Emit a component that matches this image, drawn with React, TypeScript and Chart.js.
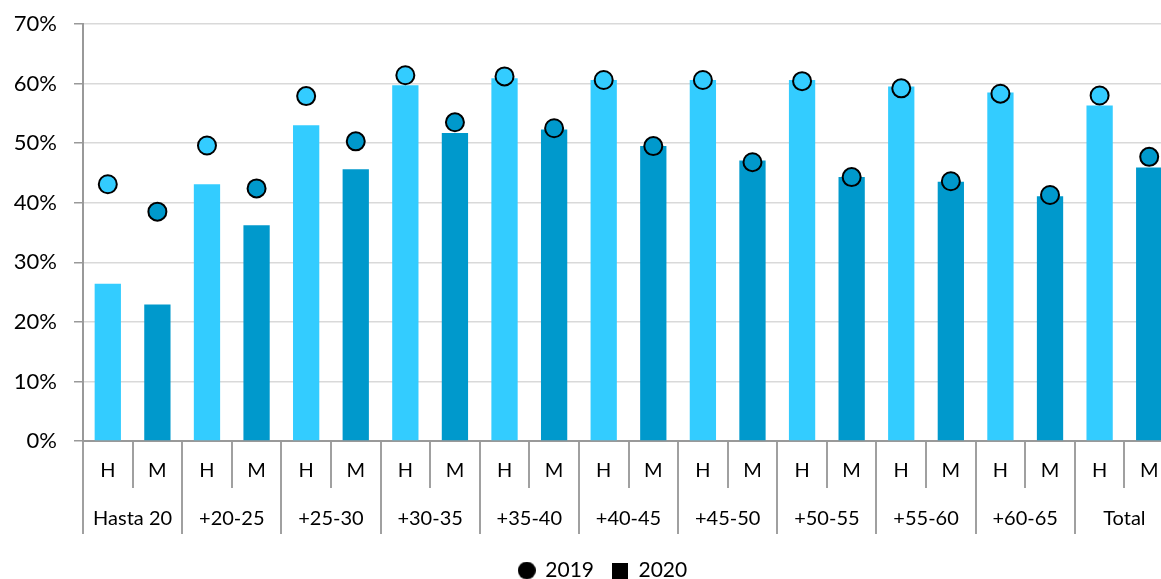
import React, { useEffect, useRef } from 'react';
import { Chart, registerables } from 'chart.js';

Chart.register(...registerables);

const groups = ['Hasta 20', '+20-25', '+25-30', '+30-35', '+35-40', '+40-45', '+45-50', '+50-55', '+55-60', '+60-65', 'Total'];
const sexes = ['H', 'M'];
const values2020 = [26.4, 22.9, 43.1, 36.2, 53.0, 45.6, 59.7, 51.7, 60.9, 52.3, 60.6, 49.5, 60.6, 47.1, 60.6, 44.3, 59.5, 43.5, 58.5, 41.1, 56.3, 45.9];
const values2019 = [43.1, 38.5, 49.6, 42.4, 57.9, 50.3, 61.4, 53.5, 61.2, 52.5, 60.6, 49.5, 60.6, 46.8, 60.4, 44.3, 59.2, 43.6, 58.3, 41.3, 58.0, 47.7];
const yTicks = [0, 10, 20, 30, 40, 50, 60, 70];
const seriesNames = ['2019', '2020'];

const LIGHT = '#33CCFF';
const DARK = '#0099CC';
const FONT = 'Lato, "Noto Sans", sans-serif';
const Y_FONT_SIZE = 22;

function makeMarker(kind: 'circle' | 'square', size: number) {
  const c = document.createElement('canvas');
  c.width = size;
  c.height = size;
  const g = c.getContext('2d') as CanvasRenderingContext2D;
  g.fillStyle = '#000';
  if (kind === 'circle') {
    g.beginPath();
    g.arc(size / 2, size / 2, size / 2, 0, Math.PI * 2);
    g.fill();
  } else {
    g.fillRect(0, 0, size, size);
  }
  return c;
}

export default function App() {
  const ref = useRef<HTMLCanvasElement | null>(null);

  useEffect(() => {
    const canvas = ref.current;
    if (!canvas) return;
    const labels: string[] = [];
    groups.forEach(() => sexes.forEach((s) => labels.push(s)));
    const colors = labels.map((_, i) => (i % 2 === 0 ? LIGHT : DARK));

    const mctx = document.createElement('canvas').getContext('2d') as CanvasRenderingContext2D;
    mctx.font = `${Y_FONT_SIZE}px ${FONT}`;
    const widest = Math.max(...yTicks.map((v) => mctx.measureText(v + '%').width));

    const circleMarker = makeMarker('circle', 18);
    const squareMarker = makeMarker('square', 16);

    const chart = new Chart(canvas, {
      type: 'bar',
      data: {
        labels,
        datasets: [
          {
            type: 'line',
            label: seriesNames[0],
            data: values2019,
            showLine: false,
            pointRadius: 9,
            pointHoverRadius: 9,
            pointBackgroundColor: colors,
            pointBorderColor: '#000',
            pointBorderWidth: 2,
            order: 0,
          } as any,
          {
            type: 'bar',
            label: seriesNames[1],
            data: values2020,
            backgroundColor: colors,
            categoryPercentage: 1,
            barPercentage: 0.53,
            order: 1,
          },
        ],
      },
      options: {
        responsive: false,
        animation: false,
        devicePixelRatio: 1,
        layout: { padding: { top: 24, left: 32, right: 32, bottom: 0 } },
        plugins: {
          tooltip: { enabled: false },
          legend: {
            position: 'bottom',
            title: { display: true, text: ' ', font: { size: 10, lineHeight: 1.1 }, padding: 0 },
            labels: {
              usePointStyle: true,
              boxHeight: 16,
              boxWidth: 16,
              padding: 18,
              color: '#000',
              font: { family: FONT, size: 21 },
              generateLabels: () => [
                { text: seriesNames[0], pointStyle: circleMarker, fillStyle: '#000', strokeStyle: '#000', fontColor: '#000', lineWidth: 0, datasetIndex: 0 } as any,
                { text: seriesNames[1], pointStyle: squareMarker, fillStyle: '#000', strokeStyle: '#000', fontColor: '#000', lineWidth: 0, datasetIndex: 1 } as any,
              ],
            },
          },
        },
        scales: {
          y: {
            min: yTicks[0],
            max: yTicks[yTicks.length - 1],
            ticks: {
              stepSize: yTicks[1] - yTicks[0],
              mirror: true,
              crossAlign: 'far',
              padding: -26 - widest,
              color: '#000',
              font: { family: FONT, size: Y_FONT_SIZE },
              callback: (v: any) => v + '%',
            },
            grid: { color: '#d9d9d9', lineWidth: 1.5, tickColor: '#999', tickLength: 9 },
            border: { color: '#999', width: 2 },
            afterFit: (s: any) => { s.width = 51; },
          },
          x: {
            weight: 0,
            offset: true,
            ticks: {
              autoSkip: false,
              maxRotation: 0,
              padding: -29,
              color: '#000',
              font: { family: FONT, size: 20 },
            },
            grid: { offset: true, drawOnChartArea: false, tickLength: 47, tickColor: '#a0a0a0', lineWidth: 2 },
            border: { color: '#999', width: 2 },
            afterFit: (s: any) => { s.height = 42; },
          },
          x2: {
            type: 'category',
            position: 'bottom',
            weight: 1,
            labels: groups,
            offset: true,
            ticks: {
              autoSkip: false,
              maxRotation: 0,
              padding: -27,
              color: '#000',
              font: { family: FONT, size: 20 },
            },
            grid: { offset: true, drawOnChartArea: false, tickLength: 51, tickColor: '#a0a0a0', lineWidth: 2 },
            border: { display: false },
            afterFit: (s: any) => { s.height = 48; },
          },
        },
      } as any,
    });
    return () => chart.destroy();
  }, []);

  return (
    <div style={{ position: 'fixed', left: 0, top: 0, width: 1161, height: 579, overflow: 'hidden', background: '#fff' }}>
      <canvas ref={ref} width={1206} height={591} style={{ display: 'block' }} />
    </div>
  );
}
